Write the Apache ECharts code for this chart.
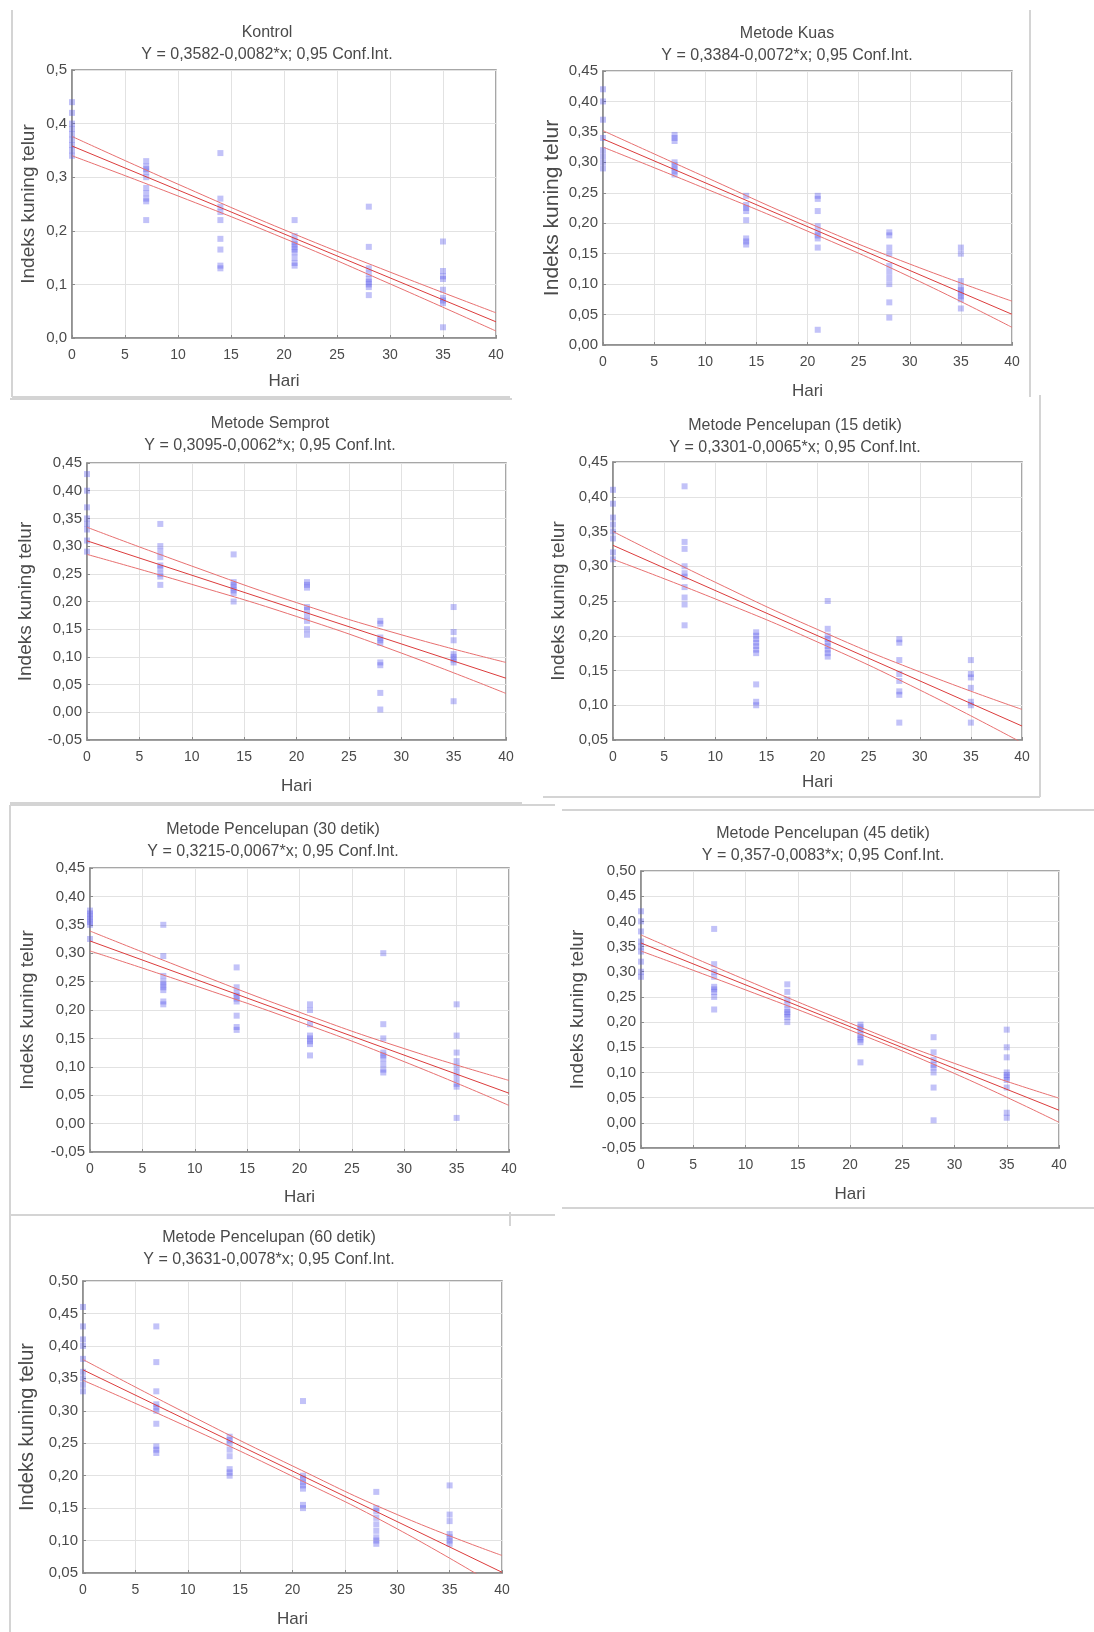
<!DOCTYPE html>
<html>
<head>
<meta charset="utf-8">
<script src="https://cdn.jsdelivr.net/npm/echarts@6/dist/echarts.min.js"></script>
<style>
  html, body { margin: 0; padding: 0; background: #fff; }
  #chart { width: 1094px; height: 1632px; }
</style>
</head>
<body>
<div id="chart"></div>
<script>
// hari pengamatan
const days = [0, 7, 14, 21, 28, 35]
const bandX = [0, 10, 20, 30, 40]

const titles = [
  'Kontrol',
  'Metode Kuas',
  'Metode Semprot',
  'Metode Pencelupan (15 detik)',
  'Metode Pencelupan (30 detik)',
  'Metode Pencelupan (45 detik)',
  'Metode Pencelupan (60 detik)'
]
const equations = [
  'Y = 0,3582-0,0082*x; 0,95 Conf.Int.',
  'Y = 0,3384-0,0072*x; 0,95 Conf.Int.',
  'Y = 0,3095-0,0062*x; 0,95 Conf.Int.',
  'Y = 0,3301-0,0065*x; 0,95 Conf.Int.',
  'Y = 0,3215-0,0067*x; 0,95 Conf.Int.',
  'Y = 0,357-0,0083*x; 0,95 Conf.Int.',
  'Y = 0,3631-0,0078*x; 0,95 Conf.Int.'
]

// observed values, one list per day (0, 7, 14, 21, 28, 35)
const kontrolPoints = [
  [0.44, 0.42, 0.40, 0.39, 0.38, 0.37, 0.36, 0.35, 0.34],
  [0.33, 0.32, 0.315, 0.31, 0.30, 0.28, 0.27, 0.26, 0.255, 0.22],
  [0.345, 0.26, 0.245, 0.235, 0.22, 0.185, 0.165, 0.135, 0.13],
  [0.22, 0.19, 0.18, 0.175, 0.17, 0.165, 0.16, 0.15, 0.14, 0.135],
  [0.245, 0.17, 0.13, 0.12, 0.11, 0.105, 0.10, 0.095, 0.08],
  [0.18, 0.125, 0.115, 0.11, 0.09, 0.075, 0.07, 0.065, 0.02]
]
const kuasPoints = [
  [0.42, 0.40, 0.37, 0.34, 0.32, 0.31, 0.30, 0.29],
  [0.345, 0.34, 0.335, 0.30, 0.295, 0.29, 0.285, 0.28],
  [0.245, 0.23, 0.225, 0.22, 0.205, 0.175, 0.17, 0.165],
  [0.245, 0.24, 0.22, 0.195, 0.185, 0.18, 0.175, 0.16, 0.025],
  [0.185, 0.18, 0.16, 0.15, 0.13, 0.12, 0.11, 0.10, 0.07, 0.045],
  [0.16, 0.15, 0.105, 0.095, 0.09, 0.085, 0.08, 0.075, 0.06]
]
const semprotPoints = [
  [0.43, 0.40, 0.37, 0.35, 0.34, 0.33, 0.31, 0.29],
  [0.34, 0.30, 0.29, 0.28, 0.265, 0.26, 0.25, 0.245, 0.23],
  [0.285, 0.235, 0.23, 0.225, 0.22, 0.215, 0.20],
  [0.235, 0.23, 0.225, 0.19, 0.185, 0.175, 0.165, 0.15, 0.14],
  [0.165, 0.16, 0.135, 0.13, 0.125, 0.09, 0.085, 0.035, 0.005],
  [0.19, 0.145, 0.13, 0.105, 0.10, 0.095, 0.09, 0.02]
]
const celup15Points = [
  [0.41, 0.39, 0.37, 0.36, 0.35, 0.34, 0.32, 0.31],
  [0.415, 0.335, 0.325, 0.30, 0.29, 0.285, 0.27, 0.255, 0.245, 0.215],
  [0.205, 0.20, 0.195, 0.19, 0.185, 0.18, 0.175, 0.13, 0.105, 0.10],
  [0.25, 0.21, 0.20, 0.195, 0.19, 0.185, 0.18, 0.175, 0.17],
  [0.195, 0.19, 0.165, 0.145, 0.135, 0.12, 0.115, 0.075],
  [0.165, 0.145, 0.14, 0.125, 0.105, 0.10, 0.075]
]
const celup30Points = [
  [0.375, 0.37, 0.365, 0.36, 0.355, 0.35, 0.325],
  [0.35, 0.295, 0.26, 0.25, 0.245, 0.24, 0.235, 0.215, 0.21],
  [0.275, 0.24, 0.23, 0.225, 0.22, 0.215, 0.19, 0.17, 0.165],
  [0.21, 0.20, 0.175, 0.155, 0.15, 0.145, 0.14, 0.12],
  [0.30, 0.175, 0.15, 0.125, 0.12, 0.115, 0.105, 0.095, 0.09],
  [0.21, 0.155, 0.125, 0.11, 0.10, 0.09, 0.08, 0.07, 0.065, 0.01]
]
const celup45Points = [
  [0.42, 0.40, 0.38, 0.36, 0.35, 0.34, 0.32, 0.30, 0.29],
  [0.385, 0.315, 0.30, 0.29, 0.27, 0.265, 0.26, 0.25, 0.225],
  [0.275, 0.26, 0.245, 0.235, 0.225, 0.22, 0.215, 0.21, 0.20],
  [0.195, 0.19, 0.185, 0.175, 0.17, 0.165, 0.16, 0.12],
  [0.17, 0.14, 0.125, 0.115, 0.11, 0.10, 0.07, 0.005],
  [0.185, 0.15, 0.13, 0.10, 0.095, 0.09, 0.085, 0.07, 0.02, 0.01]
]
const celup60Points = [
  [0.46, 0.43, 0.41, 0.40, 0.38, 0.36, 0.35, 0.34, 0.33],
  [0.43, 0.375, 0.33, 0.31, 0.305, 0.30, 0.28, 0.245, 0.24, 0.235],
  [0.26, 0.255, 0.25, 0.24, 0.23, 0.21, 0.205, 0.20],
  [0.315, 0.20, 0.195, 0.19, 0.185, 0.18, 0.155, 0.15],
  [0.175, 0.15, 0.145, 0.135, 0.125, 0.115, 0.105, 0.10, 0.095],
  [0.185, 0.14, 0.13, 0.11, 0.105, 0.10, 0.095]
]

// regression line: value at x = 0 and x = 40
const kontrolFit = [0.3582, 0.0302]
const kuasFit = [0.3384, 0.0504]
const semprotFit = [0.3095, 0.0615]
const celup15Fit = [0.3301, 0.0701]
const celup30Fit = [0.3215, 0.0535]
const celup45Fit = [0.357, 0.025]
const celup60Fit = [0.3631, 0.0511]

// 95% confidence band, read at bandX
const kontrolUpper = [0.376, 0.287, 0.202, 0.123, 0.047]
const kontrolLower = [0.340, 0.265, 0.186, 0.101, 0.013]
const kuasUpper = [0.352, 0.276, 0.201, 0.133, 0.072]
const kuasLower = [0.325, 0.257, 0.187, 0.112, 0.029]
const semprotUpper = [0.334, 0.264, 0.198, 0.140, 0.090]
const semprotLower = [0.285, 0.231, 0.173, 0.107, 0.034]
const celup15Upper = [0.350, 0.277, 0.209, 0.148, 0.094]
const celup15Lower = [0.310, 0.253, 0.191, 0.122, 0.046]
const celup30Upper = [0.339, 0.266, 0.196, 0.132, 0.076]
const celup30Lower = [0.304, 0.243, 0.179, 0.109, 0.032]
const celup45Upper = [0.373, 0.284, 0.198, 0.118, 0.049]
const celup45Lower = [0.341, 0.264, 0.184, 0.098, 0.001]
const celup60Upper = [0.379, 0.295, 0.215, 0.140, 0.077]
const celup60Lower = [0.347, 0.275, 0.199, 0.118, 0.025]

// y axis ticks
const yMins = [0, 0, -0.05, 0.05, -0.05, -0.05, 0.05]
const yMaxs = [0.5, 0.45, 0.45, 0.45, 0.45, 0.5, 0.5]
const ySteps = [0.1, 0.05, 0.05, 0.05, 0.05, 0.05, 0.05]
const yDecimals = [1, 2, 2, 2, 2, 2, 2]

const pointSets = [kontrolPoints, kuasPoints, semprotPoints, celup15Points, celup30Points, celup45Points, celup60Points]
const fits = [kontrolFit, kuasFit, semprotFit, celup15Fit, celup30Fit, celup45Fit, celup60Fit]
const uppers = [kontrolUpper, kuasUpper, semprotUpper, celup15Upper, celup30Upper, celup45Upper, celup60Upper]
const lowers = [kontrolLower, kuasLower, semprotLower, celup15Lower, celup30Lower, celup45Lower, celup60Lower]

// panel placement on the page
const layout = [
  { left: 72, top: 70, width: 424, height: 268, gapY: 34, gapX: 35, nameSize: 19, tx: 262, ty: 20 },
  { left: 603, top: 71, width: 409, height: 274, gapY: 40, gapX: 38, nameSize: 21, tx: 782, ty: 21 },
  { left: 87, top: 463, width: 419, height: 277, gapY: 52, gapX: 38, nameSize: 19, tx: 265, ty: 411 },
  { left: 613, top: 462, width: 409, height: 278, gapY: 45, gapX: 34, nameSize: 19, tx: 790, ty: 413 },
  { left: 90, top: 868, width: 419, height: 284, gapY: 53, gapX: 37, nameSize: 19, tx: 268, ty: 817 },
  { left: 641, top: 871, width: 418, height: 277, gapY: 54, gapX: 38, nameSize: 19, tx: 818, ty: 821 },
  { left: 83, top: 1281, width: 419, height: 292, gapY: 46, gapX: 38, nameSize: 20, tx: 264, ty: 1225 }
]

const FONT = 'Liberation Sans, Arial, sans-serif'
const TEXT = '#4a4a4a'

const chartDom = document.getElementById('chart')
const myChart = echarts.init(chartDom, null, { renderer: 'canvas' })

const grid = [], xAxis = [], yAxis = [], title = [], series = []

layout.forEach((p, i) => {
  grid.push({
    left: p.left, top: p.top, width: p.width, height: p.height,
    show: true, borderColor: '#8a8a8a', borderWidth: 1.5, backgroundColor: '#fff'
  })
  title.push({
    text: titles[i],
    subtext: equations[i],
    left: p.tx,
    top: p.ty,
    textAlign: 'center',
    itemGap: 6,
    textStyle: { fontSize: 16, fontWeight: 'normal', color: TEXT, fontFamily: FONT },
    subtextStyle: { fontSize: 16, color: TEXT, fontFamily: FONT }
  })
  xAxis.push({
    type: 'value', gridIndex: i, min: 0, max: 40, interval: 5,
    name: 'Hari', nameLocation: 'middle', nameGap: p.gapX,
    nameTextStyle: { fontSize: 17, color: TEXT, fontFamily: FONT },
    axisLine: { show: true, onZero: false, lineStyle: { color: '#8a8a8a', width: 1.5 } },
    axisTick: { show: true, inside: true, length: 3, lineStyle: { color: '#8a8a8a' } },
    axisLabel: { fontSize: 14, color: TEXT, fontFamily: FONT, margin: 10 },
    splitLine: { show: true, lineStyle: { color: '#e2e2e2', width: 1 } }
  })
  const dec = yDecimals[i]
  yAxis.push({
    type: 'value', gridIndex: i, min: yMins[i], max: yMaxs[i], interval: ySteps[i],
    name: 'Indeks kuning telur', nameLocation: 'middle', nameGap: p.gapY,
    nameTextStyle: { fontSize: p.nameSize, color: TEXT, fontFamily: FONT },
    axisLine: { show: true, onZero: false, lineStyle: { color: '#8a8a8a', width: 1.5 } },
    axisTick: { show: true, inside: true, length: 3, lineStyle: { color: '#8a8a8a' } },
    axisLabel: {
      fontSize: 15, color: TEXT, fontFamily: FONT, margin: 5,
      formatter: v => v.toFixed(dec).replace('.', ',')
    },
    splitLine: { show: true, lineStyle: { color: '#e2e2e2', width: 1 } }
  })

  const pts = []
  pointSets[i].forEach((vals, d) => vals.forEach(v => pts.push([days[d], v])))

  series.push({
    type: 'scatter', xAxisIndex: i, yAxisIndex: i,
    symbol: 'rect', symbolSize: 6, data: pts,
    itemStyle: { color: 'rgba(85, 85, 235, 0.45)' },
    z: 2
  })
  const lineBase = {
    type: 'line', xAxisIndex: i, yAxisIndex: i,
    symbol: 'none', showSymbol: false, clip: true, z: 3
  }
  series.push(Object.assign({}, lineBase, {
    data: [[0, fits[i][0]], [40, fits[i][1]]],
    lineStyle: { color: '#dc3c3c', width: 1 }
  }))
  series.push(Object.assign({}, lineBase, {
    data: bandX.map((x, k) => [x, uppers[i][k]]), smooth: true,
    lineStyle: { color: '#e87070', width: 1 }
  }))
  series.push(Object.assign({}, lineBase, {
    data: bandX.map((x, k) => [x, lowers[i][k]]), smooth: true,
    lineStyle: { color: '#e87070', width: 1 }
  }))
})

// faint frames around the pasted panels
const frames = [
  [12, 10, 12, 397], [12, 397, 510, 397],
  [1030, 10, 1030, 397],
  [10, 399, 512, 399], [10, 803, 522, 803],
  [1040, 395, 1040, 797], [543, 797, 1040, 797],
  [10, 805, 555, 805], [10, 805, 10, 1215], [10, 1215, 555, 1215],
  [562, 810, 1094, 810], [562, 1208, 1094, 1208],
  [10, 1215, 10, 1632], [510, 1212, 510, 1226]
]

const option = {
  backgroundColor: '#fff',
  animation: false,
  title: title,
  grid: grid,
  xAxis: xAxis,
  yAxis: yAxis,
  series: series,
  graphic: frames.map(f => ({
    type: 'line', silent: true, z: -10,
    shape: { x1: f[0], y1: f[1], x2: f[2], y2: f[3] },
    style: { stroke: '#d4d4d4', lineWidth: 2 }
  }))
}

myChart.setOption(option)
</script>
</body>
</html>
